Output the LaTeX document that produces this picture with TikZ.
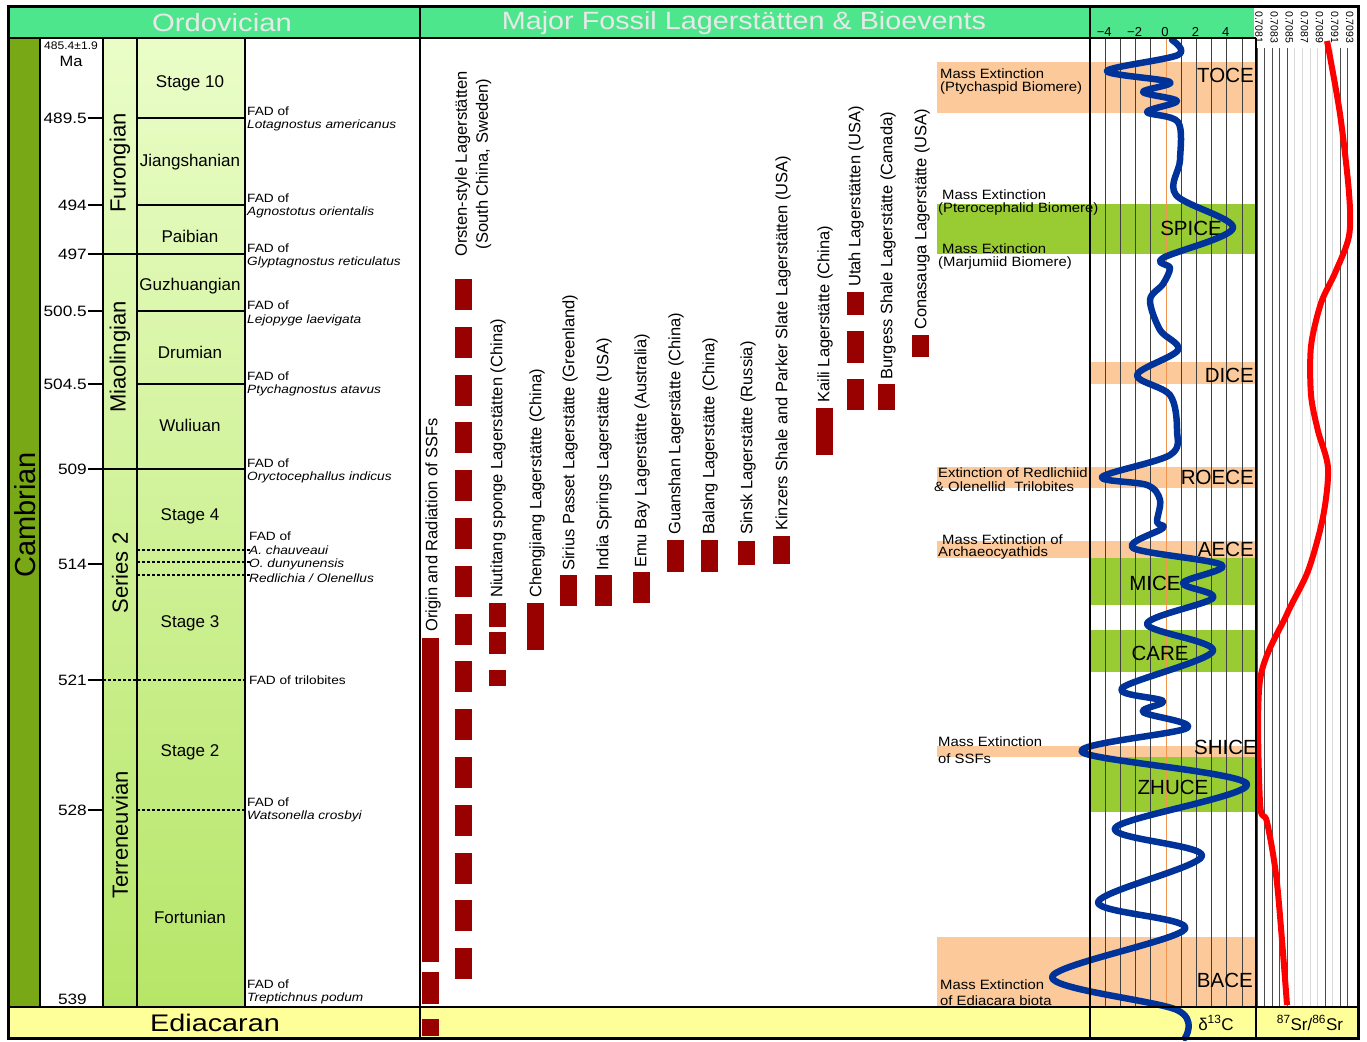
\documentclass[tikz,border=0pt]{standalone}
\usepackage{fontspec}
\setmainfont{Liberation Sans}
\usepackage{graphicx}
\newcommand\hstr[2]{\scalebox{#1}[1]{#2}}
\newcommand\fz[2]{\fontsize{#1}{#2}\selectfont}
\definecolor{hdr}{RGB}{77,230,140}
\definecolor{hdrtext}{RGB}{232,232,232}
\definecolor{ediac}{RGB}{255,255,153}
\definecolor{camb}{RGB}{120,168,22}
\definecolor{stgtop}{RGB}{234,253,200}
\definecolor{stgbot}{RGB}{182,230,104}
\definecolor{peach}{RGB}{252,202,154}
\definecolor{bandgreen}{RGB}{153,204,51}
\definecolor{barred}{RGB}{153,0,0}
\definecolor{cblue}{RGB}{0,51,153}
\definecolor{zeroline}{RGB}{240,150,80}
\begin{document}
\begin{tikzpicture}[x=1pt,y=-1pt,
  every node/.style={inner sep=0pt,text=black},
  stagelab/.style={font=\fz{17}{20}},
  serieslab/.style={font=\fz{22}{26},rotate=90},
  agelab/.style={font=\fz{15}{18},anchor=east},
  fadlab/.style={font=\fz{12}{14},anchor=west},
  vlab/.style={font=\fz{16.5}{20},rotate=90,anchor=west},
  evlab/.style={font=\fz{13.5}{15},anchor=west},
  bandlab/.style={font=\fz{20.5}{24}},
  bandlabE/.style={font=\fz{20.5}{24},anchor=east},
  solidb/.style={line width=1.5},
  dashb/.style={line width=1.3,dash pattern=on 3pt off 2pt},
  agetick/.style={line width=2.5},
  frameline/.style={line width=2.5},
  cgrid/.style={line width=0.8,black!75},
  srdark/.style={line width=0.9,black!70},
  srlight/.style={line width=0.9,black!15}]
\fill[white] (0,0) rectangle (1367,1041);
\useasboundingbox (0,0) rectangle (1367,1041);

% base fills
\fill[hdr] (8,8) rectangle (1254,38);
\fill[ediac] (8,1007) rectangle (1358,1038);
\fill[camb] (8,38) rectangle (40,1007);
\shade[top color=stgtop,bottom color=stgbot] (103,38) rectangle (245,1007);

% bands
\fill[peach] (937,62) rectangle (1256,113);
\fill[bandgreen] (937,204) rectangle (1256,254);
\fill[peach] (1090,362) rectangle (1256,384);
\fill[peach] (937,467) rectangle (1256,488);
\fill[peach] (937,541) rectangle (1256,558);
\fill[bandgreen] (1090,558) rectangle (1256,605);
\fill[bandgreen] (1090,630) rectangle (1256,672);
\fill[peach] (937,746) rectangle (1256,757);
\fill[bandgreen] (1090,757) rectangle (1256,812);
\fill[peach] (937,937) rectangle (1256,1007);

% d13C grid
\foreach \v in {-4,-3,-2,-1,1,2,3,4,5}
  \draw[cgrid] ({1166+15.2*\v},38) -- ({1166+15.2*\v},1007);
\draw[zeroline,line width=0.9] (1166,38) -- (1166,1007);

% Sr grid
\foreach \k in {0,1,2,3,4,9,11,12}
  \draw[srdark] ({1257+7.57*\k},48) -- ({1257+7.57*\k},1007);
\foreach \k in {5,6,7,8,10}
  \draw[srlight] ({1257+7.57*\k},48) -- ({1257+7.57*\k},1007);

% headers
\node[font=\fz{25}{28},text=hdrtext] (ordo) at (222,23) {\hstr{1.17}{Ordovician}};
\node[font=\fz{25}{28},text=hdrtext] (major) at (744,23) {\hstr{1.15}{Major Fossil Lagerstätten \& Bioevents}};
\foreach \v/\t in {-4/−4,-2/−2,0/0,2/2,4/4}
  \node[font=\fz{13}{15}] (ax\v) at ({1165+15.2*\v},32) {\t};
\foreach \k/\t in {0/0.7081,2/0.7083,4/0.7085,6/0.7087,8/0.7089,10/0.7091,12/0.7093}
  \node[font=\fz{10.5}{12},rotate=-90,anchor=west] (sr\k) at ({1259+7.57*\k},11) {\t};

% bottom row texts
\node[font=\fz{24}{28}] (edia) at (215,1023) {\hstr{1.2}{Ediacaran}};
\node[font=\fz{17}{20}] (dC) at (1216,1023) {δ\textsuperscript{13}C};
\node[font=\fz{17}{20}] (dSr) at (1310,1023) {\textsuperscript{87}Sr/\textsuperscript{86}Sr};

% Cambrian
\node[font=\fz{29}{32},rotate=90] (camb) at (25,515) {Cambrian};

% series
\node[serieslab] (s1) at (120,163) {Furongian};
\node[serieslab] (s2) at (120,357) {Miaolingian};
\node[serieslab] (s3) at (120,573) {Series 2};
\node[serieslab] (s4) at (120,835) {Terreneuvian};

% stages
\foreach \n/\y/\t in {a/83/Stage 10,b/162/Jiangshanian,c/236/Paibian,d/286/Guzhuangian,e/352/Drumian,f/425/Wuliuan,g/516/Stage 4,h/623/Stage 3,i/752/Stage 2,j/917/Fortunian}
  \node[stagelab] (st\n) at (190,\y) {\t};

% ages
\node[font=\fz{11}{12}] (top1) at (71,46) {\hstr{1.1}{485.4±1.9}};
\node[font=\fz{15}{18}] (top2) at (71,61) {\hstr{1.1}{Ma}};
\foreach \n/\a/\y in {a/489.5/118,b/494/205,c/497/254,d/500.5/311,e/504.5/384,f/509/469,g/514/564,h/521/680,i/528/810}{
  \draw[agetick] (88,\y) -- (103,\y);
  \node[agelab] (age\n) at (87,\y) {\hstr{1.15}{\a}};
}
\node[agelab] (agej) at (87,999) {\hstr{1.15}{539}};

% boundaries
\foreach \y in {118,205,311,384}
  \draw[solidb] (137,\y) -- (245,\y);
\foreach \y in {254,469}
  \draw[solidb] (103,\y) -- (245,\y);
\foreach \y in {550,562,575}
  \draw[dashb] (137,\y) -- (250,\y);
\draw[dashb] (103,680) -- (245,680);
\draw[dashb] (137,810) -- (245,810);

% FAD labels
\foreach \n/\ya/\yb/\t in {a/111/125/Lotagnostus americanus,b/198/212/Agnostotus orientalis,c/248/262/Glyptagnostus reticulatus,d/305/320/Lejopyge laevigata,e/376/390/Ptychagnostus atavus,f/463/477/Oryctocephallus indicus,g/802/816/Watsonella crosbyi,h/984/998/Treptichnus podum}{
  \node[fadlab] (fad\n1) at (247,\ya) {\hstr{1.14}{FAD of}};
  \node[fadlab] (fad\n2) at (247,\yb) {\hstr{1.14}{\itshape \t}};
}
\node[fadlab] (fadk1) at (249,536) {\hstr{1.14}{FAD of}};
\node[fadlab] (fadk2) at (249,550) {\hstr{1.14}{\itshape A. chauveaui}};
\node[fadlab] (fadk3) at (249,564) {\hstr{1.14}{\itshape O. dunyunensis}};
\node[fadlab] (fadk4) at (249,578) {\hstr{1.14}{\itshape Redlichia / Olenellus}};
\node[fadlab] (fadl) at (249,680) {\hstr{1.14}{FAD of trilobites}};

% fossil bars
\fill[barred] (422,638) rectangle (439,962);
\fill[barred] (422,972) rectangle (439,1004);
\fill[barred] (422,1019) rectangle (439,1036);
\foreach \k in {0,...,14}
  \fill[barred] (455,{279+47.8*\k}) rectangle (472,{310+47.8*\k});
\fill[barred] (489,603) rectangle (506,627);
\fill[barred] (489,632) rectangle (506,654);
\fill[barred] (489,670) rectangle (506,686);
\fill[barred] (527,603) rectangle (544,650);
\fill[barred] (560,575) rectangle (577,606);
\fill[barred] (595,575) rectangle (612,606);
\fill[barred] (633,572) rectangle (650,603);
\fill[barred] (667,540) rectangle (684,572);
\fill[barred] (701,540) rectangle (718,572);
\fill[barred] (738,541) rectangle (755,565);
\fill[barred] (773,536) rectangle (790,564);
\fill[barred] (816,408) rectangle (833,455);
\fill[barred] (847,292) rectangle (864,315);
\fill[barred] (847,331) rectangle (864,363);
\fill[barred] (847,379) rectangle (864,410);
\fill[barred] (878,384) rectangle (895,410);
\fill[barred] (912,335) rectangle (929,357);

% fossil labels
\node[vlab] (l1) at (433,632) {Origin and Radiation of SSFs};
\node[font=\fz{16.5}{21},rotate=90,align=center] (l2) at (473,164) {Orsten-style Lagerstätten\\(South China, Sweden)};
\node[vlab] (l3) at (498,598) {Niutitang sponge Lagerstätten (China)};
\node[vlab] (l4) at (537,598) {Chengjiang Lagerstätte (China)};
\node[vlab] (l5) at (570,571) {Sirius Passet Lagerstätte (Greenland)};
\node[vlab] (l6) at (604,571) {India Springs Lagerstätte (USA)};
\node[vlab] (l7) at (642,568) {Emu Bay Lagerstätte (Australia)};
\node[vlab] (l8) at (676,535) {Guanshan Lagerstätte (China)};
\node[vlab] (l9) at (710,535) {Balang Lagerstätte (China)};
\node[vlab] (l10) at (748,535) {Sinsk Lagerstätte (Russia)};
\node[vlab] (l11) at (783,531) {Kinzers Shale and Parker Slate Lagerstätten (USA)};
\node[vlab] (l12) at (825,403) {Kaili Lagerstätte (China)};
\node[vlab] (l13) at (856,287) {Utah Lagerstätten (USA)};
\node[vlab] (l14) at (888,380) {Burgess Shale Lagerstätte (Canada)};
\node[vlab] (l15) at (922,330) {Conasauga Lagerstätte (USA)};

% event labels
\node[evlab] (e1a) at (940,74) {\hstr{1.1}{Mass Extinction}};
\node[evlab] (e1b) at (940,88) {\hstr{1.1}{(Ptychaspid Biomere)}};
\node[evlab] (e2a) at (942,195) {\hstr{1.1}{Mass Extinction}};
\node[evlab] (e2b) at (938,209) {\hstr{1.1}{(Pterocephalid Biomere)}};
\node[evlab] (e3a) at (942,249) {\hstr{1.1}{Mass Extinction}};
\node[evlab] (e3b) at (938,263) {\hstr{1.1}{(Marjumiid Biomere)}};
\node[evlab] (e4a) at (938,473) {\hstr{1.1}{Extinction of Redlichiid}};
\node[evlab] (e4b) at (934,487) {\hstr{1.1}{\& Olenellid\ \ Trilobites}};
\node[evlab] (e5a) at (942,540) {\hstr{1.1}{Mass Extinction of}};
\node[evlab] (e5b) at (938,553) {\hstr{1.1}{Archaeocyathids}};
\node[evlab] (e6a) at (938,742) {\hstr{1.1}{Mass Extinction}};
\node[evlab] (e6b) at (938,759) {\hstr{1.1}{of SSFs}};
\node[evlab] (e7a) at (940,985) {\hstr{1.1}{Mass Extinction}};
\node[evlab] (e7b) at (940,1001) {\hstr{1.1}{of Ediacara biota}};

% band labels
\node[bandlabE] (toce) at (1254,75) {TOCE};
\node[bandlab] (spice) at (1191,228) {SPICE};
\node[bandlabE] (dice) at (1254,375) {DICE};
\node[bandlabE] (roece) at (1254,477) {ROECE};
\node[bandlabE] (aece) at (1254,549) {AECE};
\node[bandlab] (mice) at (1155,583) {MICE};
\node[bandlab] (care) at (1160,653) {CARE};
\node[bandlabE] (shice) at (1257,747) {SHICE};
\node[bandlab] (zhuce) at (1173,787) {ZHUCE};
\node[bandlabE] (bace) at (1253,980) {BACE};

% carbon isotope curve
\draw[cblue,line width=6.5,line cap=round,line join=round] plot[smooth,tension=0.55] coordinates {
(1172,40) (1178,55) (1107,71) (1170,82) (1143,92) (1177,101) (1147,112) (1178,122)
(1180,160) (1176,195) (1233,228) (1163,258) (1170,268) (1163,284) (1150,300) (1160,330)
(1178,350) (1137,375) (1170,395) (1177,430) (1170,455) (1102,477) (1147,485) (1160,500)
(1157,522) (1163,528) (1133,548) (1222,565) (1183,583) (1213,598) (1147,624) (1213,651)
(1122,688) (1163,701) (1143,712) (1187,728) (1082,752) (1247,784) (1115,828) (1202,856)
(1098,902) (1185,929) (1052,977) (1177,1010) (1185,1038)};

% Sr curve
\draw[red,line width=6,line join=round] plot[smooth,tension=0.5] coordinates {
(1327,41) (1340,114) (1349,193) (1349,236) (1335,273) (1321,303) (1311,346) (1311,395)
(1318,431) (1328,468) (1323,517) (1308,571) (1287,614) (1260,680) (1260,803) (1267,822)
(1277,883) (1287,1005)};

% structure lines
\draw[solidb] (40,38) -- (40,1007);
\draw[solidb] (103,38) -- (103,1007);
\draw[solidb] (137,38) -- (137,1007);
\draw[line width=2] (245,38) -- (245,1007);
\draw[frameline] (420,8) -- (420,1038);
\draw[frameline] (1090,8) -- (1090,1038);
\draw[frameline] (1256,38) -- (1256,1038);
\draw[frameline] (8,38) -- (1256,38);
\draw[frameline] (8,1007) -- (1358,1007);
\draw[line width=3] (8,7) rectangle (1358,1038);
\end{tikzpicture}
\end{document}
